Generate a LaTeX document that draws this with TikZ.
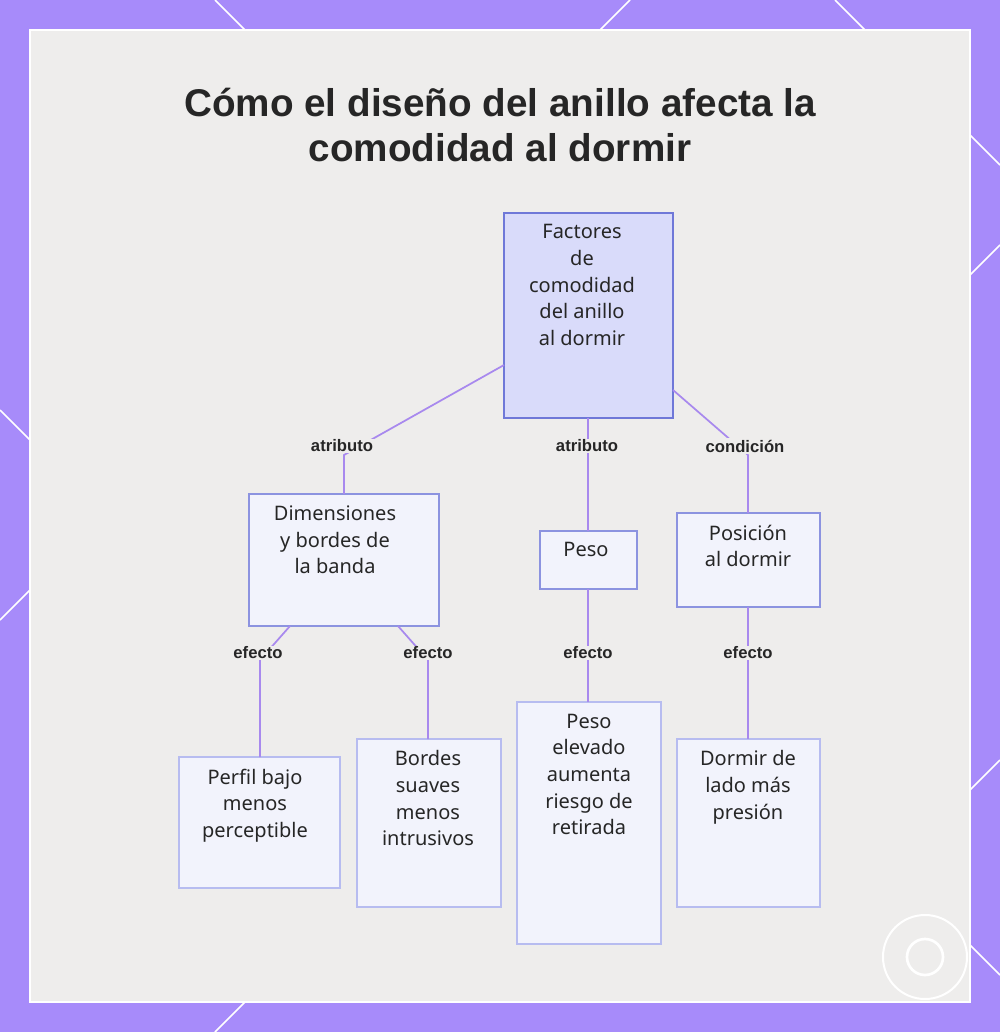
\documentclass[tikz,border=0pt]{standalone}
\usepackage{fontspec}
\setmainfont{Liberation Sans}
\newfontfamily\nodefont{Noto Sans}
\definecolor{frame}{HTML}{A78BFA}
\definecolor{panel}{HTML}{EEEDEC}
\definecolor{edge}{HTML}{A889EE}
\definecolor{topfill}{HTML}{D9DBFA}
\definecolor{topdraw}{HTML}{6F78D8}
\definecolor{boxfill}{HTML}{F2F3FC}
\definecolor{boxdraw}{HTML}{8C93E0}
\definecolor{leafdraw}{HTML}{B7BCF0}
\begin{document}
\begin{tikzpicture}[x=0.75pt,y=-0.75pt,
  box/.style={draw=boxdraw,fill=boxfill,line width=1.5pt},
  leaf/.style={draw=leafdraw,fill=boxfill,line width=1.2pt},
  txt/.style={align=center,anchor=north,font=\nodefont\fontsize{15}{20}\selectfont,text=black!85},
  lab/.style={font=\bfseries\fontsize{12.5}{14}\selectfont,text=black!85},
  con/.style={draw=edge,line width=1.3pt}]
\useasboundingbox (0,0) rectangle (1000,1032);
\fill[frame] (0,0) rectangle (1000,1032);
\draw[white,line width=1.2pt] (215,0)--(245,30) (630,0)--(600,30) (835,0)--(865,30)
 (970,135)--(1000,165) (970,275)--(1000,245) (970,790)--(1000,760) (970,945)--(1000,975)
 (0,410)--(30,440) (0,620)--(30,590) (215,1032)--(245,1002);
\draw[white,line width=2pt,fill=panel] (30,30) rectangle (970,1002);
\draw[white,line width=1.5pt] (925,957) circle (42);
\draw[white,line width=2pt] (925,957) circle (18);
\node[font=\bfseries\fontsize{29}{34}\selectfont,align=center,text=black!85] (title) at (500,125) {Cómo el diseño del anillo afecta la\\comodidad al dormir};
% boxes
\path[draw=topdraw,fill=topfill,line width=1.5pt] (504,213) rectangle (673,418);
\node[txt] (top) at (582,220) {Factores\\de\\comodidad\\del anillo\\al dormir};
\path[box] (249,494) rectangle (439,626);
\node[txt] (dim) at (335,501) {Dimensiones\\y bordes de\\la banda};
\path[box] (540,531) rectangle (637,589);
\node[txt] (peso) at (586,538) {Peso};
\path[box] (677,513) rectangle (820,607);
\node[txt] (pos) at (748,520) {Posición\\al dormir};
\path[leaf] (179,757) rectangle (340,888);
\node[txt] (perf) at (255,764) {Perfil bajo\\menos\\perceptible};
\path[leaf] (357,739) rectangle (501,907);
\node[txt] (bord) at (428,746) {Bordes\\suaves\\menos\\intrusivos};
\path[leaf] (517,702) rectangle (661,944);
\node[txt] (pel) at (589,709) {Peso\\elevado\\aumenta\\riesgo de\\retirada};
\path[leaf] (677,739) rectangle (820,907);
\node[txt] (dorm) at (748,746) {Dormir de\\lado más\\presión};
% connectors
\coordinate (a1) at (504,365); \coordinate (a2) at (344,494);
\draw[con] (a1)--(344,455)--(a2);
\node[lab,fill=panel,inner sep=1pt] (l1) at (342,446) {atributo};
\coordinate (b1) at (588,418); \coordinate (b2) at (588,531);
\draw[con] (b1)--(b2);
\node[lab,fill=panel,inner sep=1pt] (l2) at (587,446) {atributo};
\coordinate (c1) at (673,390); \coordinate (c2) at (748,513);
\draw[con] (c1)--(748,455)--(c2);
\node[lab,fill=panel,inner sep=1pt] (l3) at (745,446) {condición};
\coordinate (d1) at (290,626); \coordinate (d2) at (260,757);
\draw[con] (d1)--(260,660)--(d2);
\node[lab,fill=panel,inner sep=1pt] (l4) at (258,653) {efecto};
\coordinate (e1) at (398,626); \coordinate (e2) at (428,739);
\draw[con] (e1)--(428,660)--(e2);
\node[lab,fill=panel,inner sep=1pt] (l5) at (428,653) {efecto};
\coordinate (f1) at (588,589); \coordinate (f2) at (588,702);
\draw[con] (f1)--(f2);
\node[lab,fill=panel,inner sep=1pt] (l6) at (588,653) {efecto};
\coordinate (g1) at (748,607); \coordinate (g2) at (748,739);
\draw[con] (g1)--(g2);
\node[lab,fill=panel,inner sep=1pt] (l7) at (748,653) {efecto};
\end{tikzpicture}
\end{document}
